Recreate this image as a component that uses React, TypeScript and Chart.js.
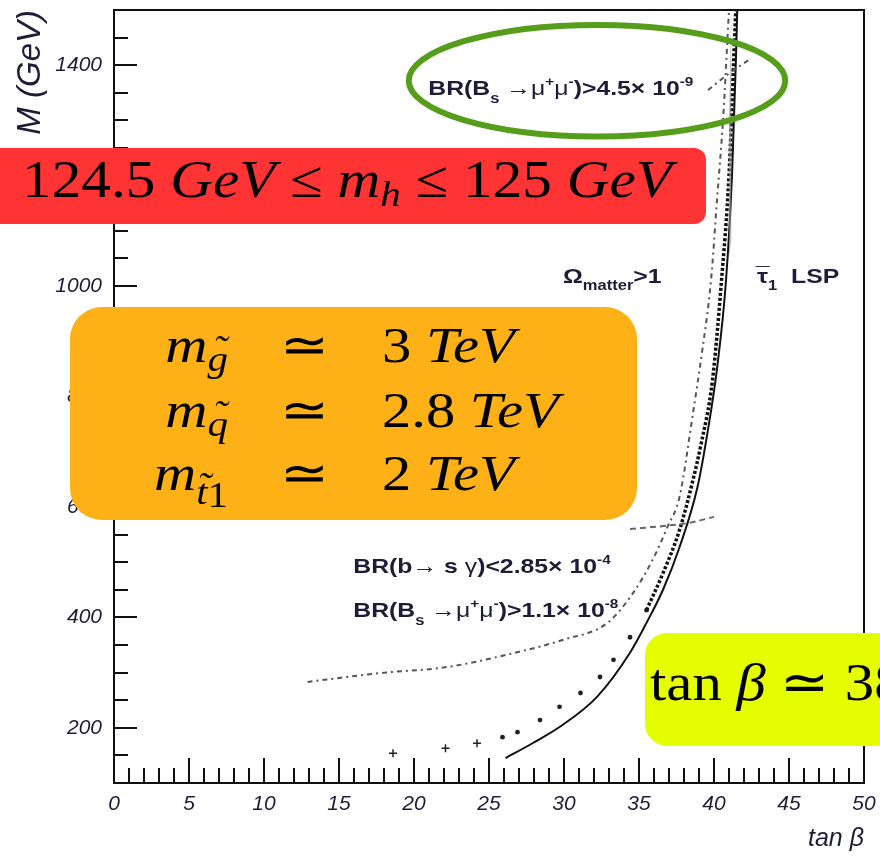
import React, { useEffect, useRef } from "react";
import { Chart, registerables } from "chart.js";

Chart.register(...registerables);

// ---- axes ----
const X_MIN = 0;
const X_MAX = 50;
const Y_MIN = 100;
const Y_MAX = 1500;
const X_LABEL_TICKS = [0, 5, 10, 15, 20, 25, 30, 35, 40, 45, 50];
const Y_LABEL_TICKS = [200, 400, 600, 800, 1000, 1200, 1400];
const X_MINOR_STEP = 1;
const Y_MINOR_STEP = 50;

// ---- boundary curves (tan beta, M in GeV) ----
// stau LSP boundary (solid)
const SOLID_TB = [26.1, 27.9, 29.9, 32.2, 34.4, 35.5, 36.6, 37.7, 38.9, 39.6, 40.2, 40.8, 41.2, 41.45, 41.55];
const SOLID_M = [145, 172, 205, 256, 336, 390, 450, 527, 636, 740, 850, 1010, 1200, 1400, 1500];

// relic density boundary: sparse dots at low M, dense dotted line above
const DOTS_TB = [25.9, 26.9, 28.4, 29.7, 31.1, 32.4, 33.3, 34.4, 35.5];
const DOTS_M = [183, 192, 214, 238, 263, 292, 323, 364, 413];
const DENSE_TB = [35.5, 36.6, 37.7, 38.6, 39.1, 39.9, 40.5, 41.0, 41.3, 41.45];
const DENSE_M = [413, 480, 558, 649, 709, 830, 1010, 1200, 1400, 1500];

// isolated scan points
const CROSS_TB = [18.6, 22.1, 24.2];
const CROSS_M = [154, 163, 172];

// BR(Bs -> mu mu) > 1.1e-8
const BSMM_LOW_TB = [12.9, 17.7, 22.2, 26.6, 29.9, 32.9, 34.6, 36.0, 36.9, 37.7, 38.6, 39.2, 39.8, 40.2, 40.6, 41.0];
const BSMM_LOW_M = [283, 299, 310, 335, 359, 390, 444, 509, 564, 618, 770, 880, 1010, 1156, 1300, 1500];

// BR(b -> s gamma) < 2.85e-4
const BSG_TB = [34.4, 36.5, 38.5, 40.0];
const BSG_M = [560, 565, 572, 582];

// BR(Bs -> mu mu) > 4.5e-9
const BSMM_HIGH_TB = [39.6, 41.0, 42.5];
const BSMM_HIGH_M = [1355, 1385, 1413];

// shaded strip along the stau boundary
const BAND_M = [1050, 1250, 1500];
const BAND_LO_TB = [40.7, 40.95, 41.15];
const BAND_HI_TB = [41.0, 41.7, 41.9];

// ---- annotation anchors (data coordinates) ----
const LBL_BSMM_HIGH = { tb: 20.95, m: 1346 };
const LBL_OMEGA = { tb: 29.93, m: 1006 };
const LBL_STAU = { tb: 42.87, m: 1006 };
const LBL_BSG = { tb: 15.95, m: 480 };
const LBL_BSMM_LOW = { tb: 15.95, m: 400 };
const ELLIPSE = { tb: 32.2, m: 1372, rtb: 12.55, rm: 101 };

const SANS = "'Liberation Sans', Arial, sans-serif";
const SERIF = "'Liberation Serif', 'Times New Roman', serif";
const INK = "#1d1d38";

type Seg = { s: string; font: string; dy?: number; accent?: string; ady?: number; adx?: number };

const pts = (xs: number[], ys: number[]) => xs.map((x, i) => ({ x, y: ys[i] }));

function segsWidth(ctx: CanvasRenderingContext2D, segs: Seg[]) {
  let w = 0;
  for (const g of segs) {
    ctx.font = g.font;
    w += ctx.measureText(g.s).width;
  }
  return w;
}

function drawSegs(ctx: CanvasRenderingContext2D, segs: Seg[], x: number, y: number, sx = 1) {
  ctx.save();
  ctx.translate(x, y);
  ctx.scale(sx, 1);
  ctx.textAlign = "left";
  ctx.textBaseline = "alphabetic";
  let cx = 0;
  for (const g of segs) {
    ctx.font = g.font;
    const w = ctx.measureText(g.s).width;
    ctx.fillText(g.s, cx, g.dy ?? 0);
    if (g.accent) {
      const aw = ctx.measureText(g.accent).width;
      ctx.fillText(g.accent, cx + w / 2 - aw / 2 + (g.adx ?? 0), (g.dy ?? 0) + (g.ady ?? 0));
    }
    cx += w;
  }
  ctx.restore();
}

function roundBox(ctx: CanvasRenderingContext2D, x: number, y: number, w: number, h: number, r: number, color: string) {
  ctx.save();
  ctx.fillStyle = color;
  ctx.beginPath();
  ctx.roundRect(x, y, w, h, r);
  ctx.fill();
  ctx.restore();
}

// in-plot labels (Helvetica-like, bold, drawn slightly widened)
const LABEL_SX = 1.18;
const PB = `bold 21px ${SANS}`;
const PN = `21px ${SANS}`;
const PSUB = `bold 14px ${SANS}`;
const PSUP = `bold 13px ${SANS}`;

const bsmmLabel = (val: string, exp: string): Seg[] => [
  { s: "BR(B", font: PB },
  { s: "s", font: PSUB, dy: 8 },
  { s: " \u2192", font: PN },
  { s: "\u03bc", font: PN },
  { s: "+", font: PSUP, dy: -9 },
  { s: "\u03bc", font: PN },
  { s: "-", font: PSUP, dy: -9 },
  { s: `)>${val}\u00d7 10`, font: PB },
  { s: exp, font: PSUP, dy: -9 },
];

const bsgLabel: Seg[] = [
  { s: "BR(b", font: PB },
  { s: "\u2192", font: PN },
  { s: " s ", font: PB },
  { s: "\u03b3", font: PN },
  { s: ")<2.85\u00d7 10", font: PB },
  { s: "-4", font: PSUP, dy: -9 },
];

const omegaLabel: Seg[] = [
  { s: "\u03a9", font: PB },
  { s: "matter", font: PSUB, dy: 7 },
  { s: ">1", font: PB },
];

const stauLabel: Seg[] = [
  { s: "\u03c4", font: PB, accent: "\u00af", ady: -2 },
  { s: "1", font: PSUB, dy: 7 },
  { s: "  LSP", font: PB },
];

// LaTeX-style boxes
const TX = (size: number) => `${size}px ${SERIF}`;
const TI = (size: number) => `italic ${size}px ${SERIF}`;

const higgsText: Seg[] = [
  { s: "124.5", font: TX(52) },
  { s: " ", font: TX(52) },
  { s: "GeV", font: TI(52) },
  { s: " \u2264 ", font: TX(52) },
  { s: "m", font: TI(52) },
  { s: "h", font: TI(36), dy: 9 },
  { s: " \u2264 ", font: TX(52) },
  { s: "125", font: TX(52) },
  { s: " ", font: TX(52) },
  { s: "GeV", font: TI(52) },
];

const massRows: { lhs: Seg[]; rhs: Seg[] }[] = [
  {
    lhs: [
      { s: "m", font: TI(50) },
      { s: "g", font: TI(35), dy: 9, accent: "\u02dc", ady: -10, adx: 2 },
    ],
    rhs: [
      { s: "3 ", font: TX(50) },
      { s: "TeV", font: TI(50) },
    ],
  },
  {
    lhs: [
      { s: "m", font: TI(50) },
      { s: "q", font: TI(35), dy: 9, accent: "\u02dc", ady: -10, adx: 2 },
    ],
    rhs: [
      { s: "2.8 ", font: TX(50) },
      { s: "TeV", font: TI(50) },
    ],
  },
  {
    lhs: [
      { s: "m", font: TI(50) },
      { s: "t", font: TI(35), dy: 14, accent: "\u02dc", ady: -6, adx: 2 },
      { s: "1", font: TX(35), dy: 17 },
    ],
    rhs: [
      { s: "2 ", font: TX(50) },
      { s: "TeV", font: TI(50) },
    ],
  },
];

const tanBetaText: Seg[] = [
  { s: "tan ", font: TX(52) },
  { s: "\u03b2", font: TI(52) },
  { s: " \u2243 ", font: TX(52) },
  { s: "38", font: TX(52) },
];

const framePlugin = {
  id: "frameAndNotes",
  afterDatasetsDraw(chart: any) {
    const { ctx, chartArea: a, scales } = chart;
    const xs = scales.x;
    const ys = scales.y;
    ctx.save();
    // frame
    ctx.strokeStyle = "#111";
    ctx.lineWidth = 2;
    ctx.strokeRect(a.left, a.top, a.right - a.left, a.bottom - a.top);
    // inward ticks
    ctx.beginPath();
    for (let v = X_MIN + X_MINOR_STEP; v < X_MAX; v += X_MINOR_STEP) {
      const px = Math.round(xs.getPixelForValue(v));
      const len = v % 5 === 0 ? 25 : 15;
      ctx.moveTo(px, a.bottom);
      ctx.lineTo(px, a.bottom - len);
    }
    for (let v = Y_MIN + Y_MINOR_STEP; v < Y_MAX; v += Y_MINOR_STEP) {
      const py = Math.round(ys.getPixelForValue(v));
      const len = v % 200 === 0 ? 23 : 14;
      ctx.moveTo(a.left, py);
      ctx.lineTo(a.left + len, py);
    }
    ctx.stroke();

    // region / constraint labels
    ctx.fillStyle = INK;
    const put = (segs: Seg[], p: { tb: number; m: number }) =>
      drawSegs(ctx, segs, xs.getPixelForValue(p.tb), ys.getPixelForValue(p.m), LABEL_SX);
    put(bsmmLabel("4.5", "-9"), LBL_BSMM_HIGH);
    put(omegaLabel, LBL_OMEGA);
    put(stauLabel, LBL_STAU);
    put(bsgLabel, LBL_BSG);
    put(bsmmLabel("1.1", "-8"), LBL_BSMM_LOW);

    // highlight ring
    const cx = xs.getPixelForValue(ELLIPSE.tb);
    const cy = ys.getPixelForValue(ELLIPSE.m);
    const rx = xs.getPixelForValue(ELLIPSE.tb + ELLIPSE.rtb) - cx;
    const ry = cy - ys.getPixelForValue(ELLIPSE.m + ELLIPSE.rm);
    ctx.strokeStyle = "#579d1c";
    ctx.lineWidth = 6;
    ctx.beginPath();
    ctx.ellipse(cx, cy, rx, ry, 0, 0, Math.PI * 2);
    ctx.stroke();
    ctx.restore();
  },
  afterDraw(chart: any) {
    const { ctx } = chart;
    ctx.save();
    // Higgs mass window
    roundBox(ctx, -20, 148, 726, 76, 12, "#fe3434");
    ctx.fillStyle = "#000";
    const hw = segsWidth(ctx, higgsText);
    drawSegs(ctx, higgsText, 22, 197, 650 / hw);

    // sparticle masses
    roundBox(ctx, 70, 307, 567, 213, 32, "#fdb117");
    ctx.fillStyle = "#000";
    const sx = 1.17;
    const baselines = [362, 427, 490];
    massRows.forEach((row, i) => {
      const y = baselines[i];
      const lw = segsWidth(ctx, row.lhs) * sx;
      drawSegs(ctx, row.lhs, 228 - lw, y, sx);
      ctx.font = TX(50);
      const ew = ctx.measureText("\u2243").width * sx;
      drawSegs(ctx, [{ s: "\u2243", font: TX(50) }], 305 - ew / 2, y, sx);
      drawSegs(ctx, row.rhs, 382, y, sx);
    });

    // tan beta value
    roundBox(ctx, 645, 633, 260, 113, 22, "#e5ff00");
    ctx.fillStyle = "#000";
    drawSegs(ctx, tanBetaText, 650, 700, 1.13);
    ctx.restore();
  },
};

export default function App() {
  const ref = useRef<HTMLCanvasElement>(null);

  useEffect(() => {
    document.body.style.margin = "0";
    const canvas = ref.current;
    if (!canvas) return;

    const line = (data: any[], extra: any) => ({
      data,
      showLine: true,
      pointRadius: 0,
      fill: false,
      cubicInterpolationMode: "monotone",
      ...extra,
    });

    const chart = new Chart(canvas, {
      type: "scatter",
      data: {
        datasets: [
          line(pts(BAND_LO_TB, BAND_M), { borderWidth: 0, borderColor: "rgba(0,0,0,0)" }),
          line(pts(BAND_HI_TB, BAND_M), {
            borderWidth: 0,
            borderColor: "rgba(0,0,0,0)",
            fill: "-1",
            backgroundColor: "rgba(150,150,150,0.6)",
          }),
          line(pts(BSMM_LOW_TB, BSMM_LOW_M), {
            borderColor: "#555",
            borderWidth: 2,
            borderDash: [5, 4, 2, 4],
          }),
          line(pts(BSG_TB, BSG_M), { borderColor: "#666", borderWidth: 2, borderDash: [6, 4] }),
          line(pts(BSMM_HIGH_TB, BSMM_HIGH_M), {
            borderColor: "#555",
            borderWidth: 2,
            borderDash: [5, 4, 2, 4],
          }),
          line(pts(DENSE_TB, DENSE_M), { borderColor: "#111", borderWidth: 3.5, borderDash: [3, 2] }),
          {
            data: pts(DOTS_TB, DOTS_M),
            showLine: false,
            pointRadius: 2.4,
            pointBackgroundColor: "#222",
            pointBorderWidth: 0,
          },
          {
            data: pts(CROSS_TB, CROSS_M),
            showLine: false,
            pointStyle: "cross",
            pointRadius: 4,
            pointBorderColor: "#222",
            pointBorderWidth: 1.5,
          },
          line(pts(SOLID_TB, SOLID_M), { borderColor: "#111", borderWidth: 2 }),
        ],
      },
      options: {
        responsive: false,
        animation: false,
        events: [],
        layout: { padding: { top: 10, right: 16, bottom: 0, left: 0 } },
        plugins: { legend: { display: false }, tooltip: { enabled: false } },
        scales: {
          x: {
            type: "linear",
            min: X_MIN,
            max: X_MAX,
            grid: { display: false, drawTicks: false },
            border: { display: false },
            afterBuildTicks: (s: any) => {
              s.ticks = X_LABEL_TICKS.map((value) => ({ value }));
            },
            afterFit: (s: any) => {
              s.height = 75;
              s.paddingLeft = 0;
              s.paddingRight = 0;
            },
            ticks: {
              autoSkip: false,
              maxRotation: 0,
              padding: 9,
              color: INK,
              font: { family: SANS, size: 21, style: "italic" },
              callback: (v: any) => String(v),
            },
            title: {
              display: true,
              text: "tan \u03b2",
              align: "end",
              color: INK,
              font: { family: SANS, size: 25, style: "italic" },
              padding: { top: 0, bottom: 4 },
            },
          },
          y: {
            type: "linear",
            min: Y_MIN,
            max: Y_MAX,
            grid: { display: false, drawTicks: false },
            border: { display: false },
            afterBuildTicks: (s: any) => {
              s.ticks = Y_LABEL_TICKS.map((value) => ({ value }));
            },
            afterFit: (s: any) => {
              s.width = 114;
              s.paddingTop = 0;
              s.paddingBottom = 0;
            },
            ticks: {
              autoSkip: false,
              padding: 12,
              color: INK,
              font: { family: SANS, size: 21, style: "italic" },
              callback: (v: any) => String(v),
            },
            title: {
              display: true,
              text: "M (GeV)",
              align: "end",
              color: INK,
              font: { family: SANS, size: 33, style: "italic" },
              padding: { top: 11, bottom: 0 },
            },
          },
        },
      },
      plugins: [framePlugin],
    } as any);

    return () => chart.destroy();
  }, []);

  return (
    <div style={{ width: 880, height: 858 }}>
      <canvas ref={ref} width={880} height={858} style={{ display: "block" }} />
    </div>
  );
}
